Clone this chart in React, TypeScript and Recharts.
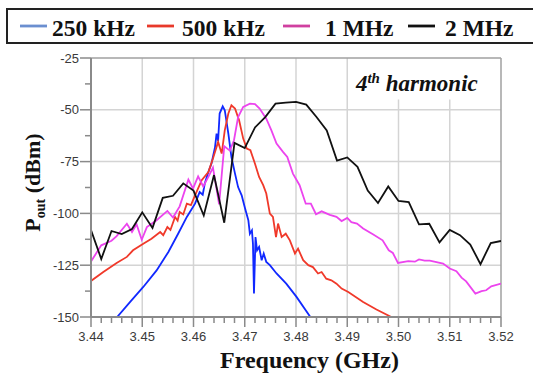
import React from "react"
import {
  CartesianGrid,
  Legend,
  Line,
  LineChart,
  ReferenceArea,
  ReferenceLine,
  XAxis,
  YAxis,
} from "recharts"

const serif = "Liberation Serif, Times New Roman, Tinos, DejaVu Serif, serif"
const sans = "Liberation Sans, Arial, Arimo, sans-serif"

// axis ticks (major, labelled)
const xMajor = [3.44, 3.45, 3.46, 3.47, 3.48, 3.49, 3.5, 3.51, 3.52]
const yMajor = [-150, -125, -100, -75, -50, -25]

// 250 kHz
const blueFreq = [
  3.4451, 3.4476, 3.4502, 3.4528, 3.4551, 3.457, 3.4587, 3.4603, 3.4612, 3.4618,
  3.4622, 3.4629, 3.4635, 3.4642, 3.4645, 3.4648, 3.4651, 3.4657, 3.4661, 3.4668,
  3.4674, 3.4681, 3.4687, 3.4694, 3.47, 3.4707, 3.471, 3.4714, 3.4716, 3.4718,
  3.4721, 3.4724, 3.4728, 3.4733, 3.4737, 3.4742, 3.4749, 3.4762, 3.4781, 3.4801,
  3.4828,
]
const blueVals = [
  -150, -142.8, -135.5, -127.5, -118.6, -109.8, -101.7, -95.3, -89.7, -91,
  -85.6, -80, -76, -68, -61.5, -65, -51.8, -48.3, -50.2, -61.5,
  -72.8, -80.8, -87.3, -91.3, -97, -103.3, -109.8, -108.2, -114.6, -138.7,
  -111.4, -117.8, -116.2, -122.6, -119.4, -123.4, -125, -129, -133.9, -140.3,
  -150,
]

// 500 kHz
const redFreq = [
  3.44, 3.4424, 3.445, 3.447, 3.4482, 3.4502, 3.4518, 3.4535, 3.4541, 3.4549,
  3.4555, 3.4564, 3.4569, 3.4573, 3.458, 3.4587, 3.4595, 3.4603, 3.4616, 3.4629,
  3.4638, 3.4648, 3.4655, 3.4661, 3.4668, 3.4674, 3.4681, 3.4689, 3.4697, 3.4704,
  3.4711, 3.472, 3.4728, 3.4736, 3.4742, 3.4749, 3.4755, 3.4761, 3.4765, 3.4772,
  3.478, 3.4788, 3.4798, 3.4804, 3.4814, 3.4824, 3.4833, 3.4843, 3.485, 3.4859,
  3.4869, 3.4879, 3.4889, 3.4902, 3.4931, 3.4957, 3.4986,
]
const redVals = [
  -132.6, -128.3, -123.9, -121, -117.8, -114.6, -112.2, -109, -110.5, -106.6,
  -108, -101.7, -103.5, -99.3, -100.5, -95.3, -96, -91.3, -84, -80,
  -73.5, -65.5, -71.1, -59.9, -51.8, -47.8, -49.4, -55.1, -63.9, -68.7,
  -69.5, -76, -82.4, -86.4, -90.4, -100.1, -101.7, -111.4, -104.9, -111.4,
  -109.8, -113, -119.4, -117, -122.6, -125, -125.9, -129, -128.3, -131.5,
  -132.3, -133.9, -136.3, -137.9, -142.8, -146.4, -150,
]

// 1 MHz
const magentaFreq = [
  3.44, 3.442, 3.444, 3.445, 3.447, 3.448, 3.4489, 3.4499, 3.4509, 3.4528,
  3.4549, 3.456, 3.4573, 3.459, 3.4599, 3.4609, 3.4619, 3.4629, 3.4638, 3.465,
  3.466, 3.4671, 3.4679, 3.4687, 3.4697, 3.471, 3.472, 3.4729, 3.4742, 3.4752,
  3.4762, 3.4775, 3.4783, 3.4794, 3.4807, 3.4819, 3.4829, 3.4839, 3.485, 3.4866,
  3.4879, 3.4889, 3.49, 3.4908, 3.4919, 3.4931, 3.495, 3.4969, 3.4981, 3.4989,
  3.4999, 3.5019, 3.5032, 3.504, 3.5051, 3.5061, 3.5087, 3.51, 3.5113, 3.5123,
  3.5132, 3.515, 3.5162, 3.5171, 3.5181, 3.52,
]
const magentaVals = [
  -123.2, -115.4, -113.2, -111, -105, -109, -105.3, -112.7, -106.6, -103.3,
  -98.8, -102, -96.6, -83.7, -88, -82.1, -87, -82.4, -77.9, -95.6,
  -67.6, -69.7, -64.7, -53.5, -48.6, -47, -47.3, -49.4, -54.3, -59.9,
  -66.3, -70.4, -72.8, -80.8, -86.4, -95.3, -95.3, -100.4, -99, -100.7,
  -101.7, -103.7, -102.2, -104.2, -104.9, -107.3, -110.1, -113, -117.8, -119.1,
  -123.9, -123, -123.3, -122.2, -122.8, -122.8, -124.2, -126.6, -127.9, -131,
  -132.8, -138.7, -137.5, -137.1, -135.2, -133.9,
]

// 2 MHz
const blackFreq = [
  3.44, 3.442, 3.444, 3.446, 3.448, 3.45, 3.452, 3.454, 3.456, 3.458,
  3.46, 3.462, 3.464, 3.466, 3.468, 3.47, 3.472, 3.474, 3.476, 3.478,
  3.48, 3.482, 3.484, 3.486, 3.488, 3.49, 3.492, 3.494, 3.496, 3.498,
  3.5, 3.502, 3.504, 3.506, 3.508, 3.51, 3.512, 3.514, 3.516, 3.518,
  3.52,
]
const blackVals = [
  -108, -122, -108.5, -110, -107.5, -99.5, -107, -92.5, -91.5, -85.5,
  -89, -101, -81.5, -104.5, -66, -68.5, -58.5, -53.5, -47, -46.5,
  -46.2, -47.5, -53.5, -60, -74.5, -73, -77.5, -89, -95, -87,
  -94, -94.5, -105.3, -105, -114, -108, -110.5, -115, -124.5, -114.3,
  -113.3,
]

const seriesNames = ["250 kHz", "500 kHz", "1 MHz", "2 MHz"]
const seriesColors = ["#1028ff", "#f0392a", "#ec44ee", "#111111"]
const legendColors = ["#6b8fd0", "#e8392a", "#d040a0", "#111111"]

const toPoints = (fs: number[], vs: number[]) =>
  fs.map((f, i) => ({ f, v: vs[i] }))

const series = [
  toPoints(blueFreq, blueVals),
  toPoints(redFreq, redVals),
  toPoints(magentaFreq, magentaVals),
  toPoints(blackFreq, blackVals),
]

// minor ticks between the labelled ones
const subdivide = (major: number[], parts: number, digits: number) => {
  const out: number[] = []
  major.forEach((m, i) => {
    if (i === major.length - 1) {
      out.push(m)
      return
    }
    const step = (major[i + 1] - m) / parts
    for (let k = 0; k < parts; k++) out.push(Number((m + k * step).toFixed(digits)))
  })
  return out
}
const xTicks = subdivide(xMajor, 5, 3)
const yTicks = subdivide(yMajor, 2, 1)

const isMajor = (list: number[], v: number) =>
  list.some((m) => Math.abs(m - v) < 1e-6)

const axisGray = "#8a8a8a"
const gridGray = "#d4d4d4"
const tickText = { fontFamily: sans, fontSize: 13, fill: "#3a3a3a" }
const serifBold = { fontFamily: serif, fontWeight: 700, fill: "#111" }

const XTick = (props: any) => {
  const { x, y, payload } = props
  const major = isMajor(xMajor, payload.value)
  return (
    <g>
      <line x1={x} x2={x} y1={y} y2={y + (major ? 10 : 6)} stroke={axisGray} strokeWidth={1.5} />
      {major && (
        <text x={x} y={y + 23.5} textAnchor="middle" style={tickText}>
          {payload.value.toFixed(2)}
        </text>
      )}
    </g>
  )
}

const YTick = (props: any) => {
  const { x, y, payload } = props
  const major = isMajor(yMajor, payload.value)
  return (
    <g>
      <line x1={x - (major ? 11 : 6)} x2={x} y1={y} y2={y} stroke={axisGray} strokeWidth={1.5} />
      {major && (
        <text x={x - 12} y={y + 4.5} textAnchor="end" style={tickText}>
          {payload.value}
        </text>
      )}
    </g>
  )
}

const legendLineX = [20, 147, 283, 408]
const legendTextX = [52, 182, 325, 445]

const LegendBox = () => (
  <svg width={533} height={50} style={{ display: "block" }}>
    <rect x={7} y={9} width={540} height={34} fill="#fff" stroke="#222" strokeWidth={2} />
    {seriesNames.map((name, i) => (
      <g key={name}>
        <line
          x1={legendLineX[i]}
          x2={legendLineX[i] + 27}
          y1={26}
          y2={26}
          stroke={legendColors[i]}
          strokeWidth={2.8}
        />
        <text x={legendTextX[i]} y={36} style={{ ...serifBold, fontSize: 23.5 }}>
          {name}
        </text>
      </g>
    ))}
  </svg>
)

const XLabel = (props: any) => {
  const { viewBox } = props
  return (
    <text
      x={viewBox.x + viewBox.width / 2 + 13.5}
      y={viewBox.y + 51}
      textAnchor="middle"
      style={{ ...serifBold, fontSize: 24 }}
    >
      Frequency (GHz)
    </text>
  )
}

const YLabel = (props: any) => {
  const { viewBox } = props
  const cx = 40
  const cy = viewBox.y + viewBox.height / 2 - 5
  return (
    <text
      x={cx}
      y={cy}
      transform={`rotate(-90, ${cx}, ${cy})`}
      textAnchor="middle"
      style={{ ...serifBold, fontSize: 22 }}
    >
      P
      <tspan style={{ fontSize: 14 }} dy={5}>out</tspan>
      <tspan dy={-5}> (dBm)</tspan>
    </text>
  )
}

const NoteLabel = (props: any) => {
  const { viewBox } = props
  const x = viewBox.x + 1
  const y = viewBox.y + 31
  return (
    <text x={x} y={y} style={{ ...serifBold, fontStyle: "italic", fontSize: 23 }}>
      4<tspan style={{ fontSize: 15 }} dy={-8}>th</tspan>
      <tspan dy={8}> harmonic</tspan>
    </text>
  )
}

export default function App() {
  return (
    <div style={{ position: "absolute", left: 0, top: 0, width: 533, height: 376, background: "#fff" }}>
      <LineChart width={533} height={376} margin={{ top: 58, right: 32, bottom: 0, left: 0 }}>
        <CartesianGrid
          stroke={gridGray}
          strokeWidth={1.5}
          horizontalValues={[-125, -100, -75, -50]}
          verticalValues={[3.45, 3.46, 3.47, 3.48, 3.49]}
        />
        <ReferenceLine
          segment={[{ x: 3.5, y: -150 }, { x: 3.5, y: -45 }]}
          stroke={gridGray}
          strokeWidth={1.5}
        />
        <ReferenceLine
          segment={[{ x: 3.51, y: -150 }, { x: 3.51, y: -45 }]}
          stroke={gridGray}
          strokeWidth={1.5}
        />
        <ReferenceLine y={-25} stroke="#a0a0a0" strokeWidth={1.5} />
        <ReferenceLine x={3.52} stroke="#a0a0a0" strokeWidth={1.5} />
        <ReferenceArea
          x1={3.4915}
          x2={3.519}
          y1={-44}
          y2={-26}
          fillOpacity={0}
          strokeOpacity={0}
          label={NoteLabel}
        />
        <XAxis
          dataKey="f"
          type="number"
          domain={[3.44, 3.52]}
          allowDataOverflow
          ticks={xTicks}
          interval={0}
          height={59}
          tickSize={0}
          tickMargin={0}
          tickLine={false}
          tick={XTick}
          axisLine={{ stroke: axisGray, strokeWidth: 2 }}
          label={XLabel}
        />
        <YAxis
          type="number"
          domain={[-150, -25]}
          allowDataOverflow
          ticks={yTicks}
          interval={0}
          width={91}
          tickSize={0}
          tickMargin={0}
          tickLine={false}
          tick={YTick}
          axisLine={{ stroke: axisGray, strokeWidth: 2 }}
          label={YLabel}
        />
        <Legend
          layout="horizontal"
          verticalAlign="middle"
          align="center"
          wrapperStyle={{ position: "absolute", left: 0, top: 0, width: 533, height: 50 }}
          content={LegendBox}
        />
        {series.map((data, i) => (
          <Line
            key={seriesNames[i]}
            data={data}
            dataKey="v"
            name={seriesNames[i]}
            type="linear"
            stroke={seriesColors[i]}
            strokeWidth={1.8}
            dot={false}
            activeDot={false}
            isAnimationActive={false}
          />
        ))}
      </LineChart>
    </div>
  )
}
